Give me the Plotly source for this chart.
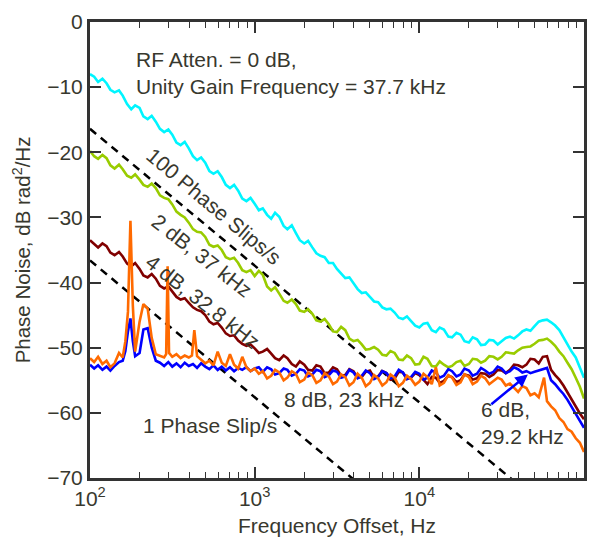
import plotly.graph_objects as go

# ---------------- data ----------------
freq_main = [100, 106, 112, 119, 126, 133, 141, 150, 158, 168, 178, 188, 200, 211, 224, 237, 251, 266, 282, 299,
             316, 335, 355, 376, 398, 422, 447, 473, 501, 531, 562, 596, 631, 668, 708, 750, 794, 841, 891, 944,
             1000, 1060, 1120, 1190, 1260, 1330, 1410, 1500, 1580, 1680, 1780, 1880, 2000, 2110, 2240, 2370, 2510,
             2660, 2820, 2990, 3160, 3350, 3550, 3760, 3980, 4220, 4470, 4730, 5010, 5310, 5620, 5960, 6310, 6680,
             7080, 7500, 7940, 8410, 8910, 9440, 10000, 10600, 11200, 11900, 12600, 13300, 14100, 15000, 15800,
             16800, 17800, 18800, 20000, 21100, 22400, 23700, 25100, 26600, 28200, 29900, 31600, 33500, 35500,
             37600, 39800, 42200, 44700, 47300, 50100, 53100, 56200, 59600, 63100, 66800, 70800, 75000, 79400,
             84100, 89100, 94400, 100000]

atten_0dB = [-8.0, -8.4, -9.2, -8.7, -9.4, -10.4, -10.8, -10.5, -11.3, -12.6, -13.4, -12.8, -13.2, -14.5, -14.9,
             -14.4, -15.3, -16.4, -16.9, -16.5, -17.3, -18.5, -18.9, -18.4, -19.4, -20.6, -21.2, -20.8, -21.6, -22.9,
             -23.3, -22.9, -23.8, -25.0, -25.5, -25.0, -25.9, -27.1, -27.5, -27.0, -27.9, -28.9, -28.6, -29.6, -30.2,
             -29.3, -29.9, -31.3, -31.8, -31.2, -32.4, -33.5, -34.0, -33.6, -34.6, -35.5, -35.9, -36.1, -37.0, -37.0,
             -37.9, -38.6, -39.3, -39.2, -40.0, -41.0, -41.6, -41.5, -42.2, -42.9, -43.0, -43.8, -44.1, -44.0, -44.6,
             -45.4, -45.6, -45.2, -45.9, -46.6, -46.9, -46.3, -46.2, -47.3, -47.6, -46.9, -47.2, -48.3, -48.4, -47.7,
             -48.0, -49.0, -49.2, -48.4, -48.7, -49.6, -49.5, -48.8, -48.9, -49.5, -49.0, -48.5, -48.3, -48.6, -48.1,
             -47.5, -47.2, -47.4, -46.7, -46.0, -45.8, -45.7, -46.1, -46.6, -47.3, -48.4, -49.6, -50.6, -51.5, -53.0,
             -54.6]

atten_2dB = [-19.8, -20.6, -21.0, -20.4, -20.9, -22.0, -22.5, -21.9, -22.6, -23.6, -23.9, -23.4, -24.2, -25.0, -25.3,
             -24.8, -25.5, -26.6, -27.0, -27.2, -28.0, -29.1, -29.6, -30.0, -30.8, -31.8, -32.2, -32.3, -33.0, -34.2,
             -34.5, -34.3, -35.0, -36.1, -36.4, -36.2, -37.0, -38.1, -38.4, -38.1, -39.0, -38.2, -38.8, -40.6, -41.2,
             -40.7, -41.7, -42.8, -43.1, -42.6, -43.3, -44.3, -44.5, -44.1, -44.8, -45.8, -46.0, -45.6, -46.4, -47.5,
             -47.6, -46.8, -47.3, -48.6, -49.0, -48.8, -49.5, -50.3, -50.2, -49.9, -50.3, -51.1, -51.2, -50.5, -50.8,
             -51.8, -51.9, -51.2, -51.6, -52.6, -52.5, -51.4, -51.7, -52.8, -52.9, -52.1, -52.6, -53.0, -52.8, -52.2,
             -52.0, -52.8, -52.5, -51.7, -51.8, -52.3, -52.0, -51.3, -51.4, -51.8, -51.4, -50.7, -50.8, -50.9, -50.4,
             -50.0, -49.9, -49.8, -49.4, -48.9, -48.8, -48.6, -49.1, -49.7, -50.6, -51.3, -52.3, -53.3, -54.6, -56.0,
             -57.8]

atten_4dB = [-33.5, -34.0, -34.6, -34.0, -34.4, -35.4, -35.8, -35.3, -36.0, -37.1, -37.5, -37.0, -37.9, -38.9, -39.2,
             -38.7, -39.4, -40.5, -40.9, -40.6, -41.3, -42.2, -42.6, -42.4, -43.1, -43.8, -44.2, -44.4, -45.0, -46.0,
             -46.4, -46.2, -46.9, -47.8, -48.2, -48.1, -48.9, -49.4, -49.7, -49.5, -50.1, -50.8, -50.6, -50.2, -50.9,
             -51.6, -51.9, -51.2, -51.6, -52.5, -52.9, -52.1, -52.6, -53.4, -53.5, -52.7, -52.9, -53.9, -53.8, -53.0,
             -53.3, -54.3, -54.2, -53.3, -53.6, -54.6, -54.5, -53.7, -53.5, -54.6, -54.4, -53.6, -53.9, -54.9, -54.7,
             -53.7, -53.8, -54.8, -54.6, -53.9, -54.2, -54.9, -55.6, -54.5, -54.6, -55.4, -55.1, -54.3, -54.5, -55.3,
             -55.0, -54.1, -54.3, -54.9, -54.7, -53.9, -54.0, -54.5, -54.1, -53.4, -53.5, -53.9, -53.4, -52.6, -52.7,
             -53.0, -52.6, -51.7, -51.8, -52.4, -51.4, -51.3, -53.4, -54.2, -54.9, -55.8, -56.9, -58.0, -59.2, -60.1,
             -61.0]

freq_6dB = [100, 106, 112, 119, 126, 133, 141, 150, 158, 164, 170, 176, 182, 188, 200, 211, 224, 237, 251, 266, 282,
            299, 316, 335, 355, 376, 398, 422, 447, 473, 501, 531, 562, 596, 631, 668, 708, 750, 794, 841, 891, 944,
            1000, 1060, 1120, 1190, 1260, 1330, 1410, 1500, 1580, 1680, 1780, 1880, 2000, 2110, 2240, 2370, 2510,
            2660, 2820, 2990, 3160, 3350, 3550, 3760, 3980, 4220, 4470, 4730, 5010, 5310, 5620, 5960, 6310, 6680,
            7080, 7500, 7940, 8410, 8910, 9440, 10000, 10600, 11200, 11900, 12600, 13300, 14100, 15000, 15800,
            16800, 17800, 18800, 20000, 21100, 22400, 23700, 25100, 26600, 28200, 29900, 31600, 33500, 35500,
            37600, 39800, 42200, 44700, 47300, 50100, 53100, 56200, 59600, 63100, 66800, 70800, 75000, 79400,
            84100, 89100, 94400, 100000]
atten_6dB = [-52.6, -53.2, -52.7, -53.4, -52.9, -53.5, -52.8, -52.2, -52.0, -50.5, -47.5, -45.5, -49.0, -51.3, -50.8,
             -47.2, -47.0, -50.0, -52.0, -52.3, -52.8, -52.2, -52.9, -52.4, -53.0, -52.3, -52.8, -52.5, -53.1, -52.4,
             -52.9, -53.3, -52.7, -53.4, -52.9, -53.5, -53.0, -53.6, -53.1, -53.4, -53.0, -53.6,
             -53.2, -53.0, -53.7, -53.0, -53.3, -54.1, -53.9, -53.2, -53.4, -54.3, -54.0, -53.3, -53.5, -54.4, -54.1,
             -53.4, -53.6, -54.5, -54.2, -53.5, -53.7, -54.6, -54.4, -53.4, -53.8, -54.7, -54.3, -53.5, -53.9, -54.8,
             -54.5, -53.6, -53.9, -54.7, -54.4, -53.4, -53.8, -54.8, -54.5, -53.7, -54.0, -54.9, -54.6, -53.5, -53.8,
             -54.6, -54.3, -53.3, -53.6, -54.4, -54.1, -53.2, -53.5, -54.3, -54.0, -53.1, -53.5, -54.0, -53.7, -52.9,
             -53.2, -53.9, -53.6, -53.0, -53.3, -53.8, -53.6, -53.9, -53.7, -53.5, -53.2, -53.1, -55.0, -55.6, -56.4,
             -57.1, -58.0, -59.1, -60.2, -61.2, -62.3]

freq_8dB = [100, 106, 112, 119, 126, 133, 141, 150, 158, 164, 170, 176, 182, 188, 200, 211, 224, 237, 251, 266, 282,
            290, 296, 302, 316, 335, 355, 376, 398, 416, 430, 447, 473, 501, 531, 562, 596, 631, 668, 708, 750, 794,
            841, 891, 944, 1000, 1060, 1120, 1190, 1260, 1330, 1410, 1500, 1580, 1680, 1780, 1880, 2000, 2110, 2240,
            2370, 2510, 2660, 2820, 2990, 3160, 3350, 3550, 3760, 3980, 4220, 4470, 4730, 5010, 5310, 5620, 5960,
            6310, 6680, 7080, 7500, 7940, 8410, 8910, 9440, 10000, 10600, 11200, 11900, 12600, 13300, 14100, 15000,
            15800, 16800, 17800, 18800, 20000, 21100, 22400, 23700, 25100, 26600, 28200, 29900, 31600, 33500, 35500,
            37600, 39800, 42200, 44700, 47300, 50100, 53100, 57200, 59600, 63100, 66800, 70800, 75000, 79400, 84100,
            89100, 94400, 100000]
atten_8dB = [-51.6, -52.2, -51.4, -52.5, -52.0, -53.0, -52.4, -50.8, -51.5, -49.0, -44.5, -30.5, -43.5, -50.6, -46.0,
             -43.3, -44.0, -48.5, -51.0, -51.2, -51.5, -51.0, -37.5, -50.8, -51.4, -51.0, -51.6, -51.2, -51.5, -51.2,
             -47.3, -51.3, -51.8, -52.4, -52.0, -52.7, -50.6, -52.3, -52.8, -51.0, -52.6, -53.2, -51.4, -53.0, -53.6,
             -53.2, -54.0, -53.6, -54.7, -54.3, -53.4, -53.8, -55.0, -54.6, -53.6, -54.0, -55.3, -54.9, -53.8, -54.2,
             -55.4, -55.0, -53.9, -54.4, -55.6, -55.2, -54.1, -54.5, -55.8, -55.3, -54.0, -54.6, -55.9, -55.4, -54.2,
             -54.7, -55.8, -55.3, -54.1, -54.6, -55.9, -55.4, -54.3, -54.8, -55.7, -55.2, -54.0, -54.5, -55.6, -53.0,
             -55.8, -55.4, -54.2, -54.6, -55.7, -55.3, -54.1, -54.5, -55.6, -55.2, -54.3, -54.7, -55.6, -55.1, -54.6,
             -54.9, -55.8, -55.5, -56.2, -56.8, -55.9, -56.2, -57.3, -57.0, -57.6, -54.6, -58.2, -59.0, -59.6, -60.8,
             -61.4, -62.5, -62.9, -63.9, -64.6, -66.0]

slip_freq = [100, 100000]
slips_100 = [-16.4, -79.4]
slips_1 = [-36.6, -99.6]

x_tickvals = [100, 1000, 10000, 100000]
x_ticktext = ["10<sup>2</sup>", "10<sup>3</sup>", "10<sup>4</sup>", "10<sup>5</sup>"]
x_minor = [200, 300, 400, 500, 600, 700, 800, 900, 2000, 3000, 4000, 5000, 6000, 7000, 8000, 9000,
           20000, 30000, 40000, 50000, 60000, 70000, 80000, 90000]
y_tickvals = [-70, -60, -50, -40, -30, -20, -10, 0]

# ---------------- figure ----------------
TXT = "#38382e"
FONT = "Liberation Sans, Arial, Helvetica, sans-serif"
fig = go.Figure()

for f, v in [(slip_freq, slips_100), (slip_freq, slips_1)]:
    fig.add_trace(go.Scatter(x=f, y=v, mode="lines",
                             line=dict(color="black", width=2.5, dash="8px,6px"), showlegend=False))

series = [
    (freq_main, atten_0dB, "#00f5ff"),
    (freq_main, atten_2dB, "#99cc00"),
    (freq_main, atten_4dB, "#800000"),
    (freq_6dB, atten_6dB, "#0000ff"),
    (freq_8dB, atten_8dB, "#ff6a00"),
]
for f, v, c in series:
    fig.add_trace(go.Scatter(x=f, y=v, mode="lines", line=dict(color=c, width=2.6), showlegend=False))

ann_font = dict(family=FONT, size=21, color=TXT)
annotations = [
    dict(x=2.265, y=-7.9, text="RF Atten. = 0 dB,<br>Unity Gain Frequency = 37.7 kHz", xanchor="left",
         yanchor="middle", align="left"),
    dict(x=2.755, y=-28.3, text="100 Phase Slips/s", textangle=40),
    dict(x=2.68, y=-35.8, text="2 dB, 37 kHz", textangle=38),
    dict(x=2.685, y=-42.9, text="4 dB, 32.8 kHz", textangle=38),
    dict(x=3.541, y=-58.0, text="8 dB, 23 kHz"),
    dict(x=4.362, y=-61.6, text="6 dB,<br>29.2 kHz", xanchor="left", align="left"),
    dict(x=2.73, y=-62.0, text="1 Phase Slip/s"),
]
for a in annotations:
    a.update(xref="x", yref="y", showarrow=False, font=ann_font)

annotations.append(dict(x=4.659, y=-54.1, xref="x", yref="y", ax=-38, ay=31, text="", showarrow=True,
                        arrowhead=2, arrowsize=1, arrowwidth=2.5, arrowcolor="#0000ff"))

fig.update_layout(
    width=597, height=546,
    margin=dict(l=90, r=10, t=12, b=68),
    paper_bgcolor="white", plot_bgcolor="white",
    font=dict(family=FONT, size=21, color=TXT),
    annotations=annotations,
    showlegend=False,
)
fig.update_xaxes(
    type="log", range=[2, 5], tickvals=x_tickvals, ticktext=x_ticktext,
    ticks="inside", ticklen=11, tickwidth=1.5, tickcolor="#333333",
    minor=dict(ticks="inside", ticklen=6, tickwidth=1.2, tickcolor="#333333", tickvals=x_minor, showgrid=False),
    showline=True, linewidth=3, linecolor="#333333", mirror="allticks",
    showgrid=False, zeroline=False,
    tickfont=dict(family=FONT, size=21, color=TXT),
    title=dict(text="Frequency Offset, Hz", font=dict(family=FONT, size=21, color=TXT), standoff=10),
)
fig.update_yaxes(
    range=[-70, 0], tickvals=y_tickvals,
    ticks="inside", ticklen=11, tickwidth=1.5, tickcolor="#333333",
    showline=True, linewidth=3, linecolor="#333333", mirror="allticks",
    showgrid=False, zeroline=False,
    tickfont=dict(family=FONT, size=21, color=TXT),
    title=dict(text="Phase Noise, dB rad<sup>2</sup>/Hz", font=dict(family=FONT, size=20.5, color=TXT), standoff=11),
)

fig.write_html("out.html")
